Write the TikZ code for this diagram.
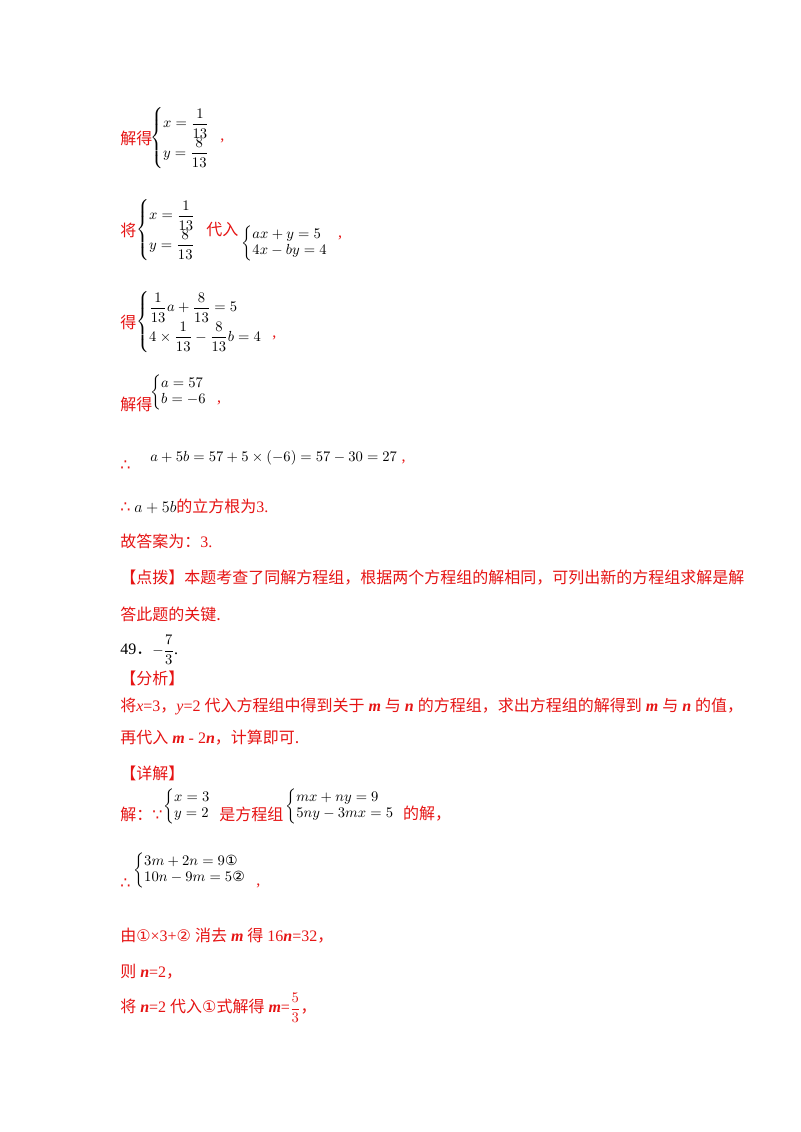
\documentclass[tikz,border=0pt]{standalone}
\usepackage{fontspec}
\usepackage{amsmath}
\setmainfont{Liberation Serif}
\newfontfamily\cjk{Noto Sans CJK SC}
\newfontfamily\sym{DejaVu Sans}
\definecolor{rd}{RGB}{230,20,20}
\tikzset{t/.style={anchor=west,inner sep=0pt,font=\fontsize{10.5}{12}\selectfont},r/.style={anchor=west,inner sep=0pt,font=\fontsize{12}{14}\selectfont,text=rd}}
\newcommand{\bm}[1]{\textbf{\textit{#1}}}
\begin{document}
\begin{tikzpicture}[x=0.75pt,y=-0.75pt]
\useasboundingbox[fill=white] (0,0) rectangle (800,1132);
\node[r] (a1) at (120,138) {\cjk 解得};
\node[t] (a2) at (150,138) {$\left\{\begin{array}{@{}l}x=\dfrac{1}{13}\\[2pt] y=\dfrac{8}{13}\end{array}\right.$};
\node[r] (a3) at ([xshift=2pt,yshift=-2pt]a2.east) {,};
\node[r] (b1) at (120,230) {\cjk 将};
\node[t] (b2) at (136,230) {$\left\{\begin{array}{@{}l}x=\dfrac{1}{13}\\[2pt] y=\dfrac{8}{13}\end{array}\right.$};
\node[r] (b3) at ([xshift=2pt]b2.east) {\cjk 代入};
\node[t] (b4) at ([xshift=2pt,yshift=-10pt]b3.east) {$\left\{\begin{array}{@{}l}ax+y=5\\ 4x-by=4\end{array}\right.$};
\node[r,anchor=south west] (b5) at ([xshift=2pt,yshift=2pt]b4.east) {,};
\node[r] (c1) at (120,322) {\cjk 得};
\node[t] (c2) at (136,322) {$\left\{\begin{array}{@{}l}\dfrac{1}{13}a+\dfrac{8}{13}=5\\[2pt] 4\times\dfrac{1}{13}-\dfrac{8}{13}b=4\end{array}\right.$};
\node[r,anchor=west] (c3) at ([xshift=2pt,yshift=-12pt]c2.east) {,};
\node[r] (d1) at (120,404) {\cjk 解得};
\node[t] (d2) at (150,392) {$\left\{\begin{array}{@{}l}a=57\\ b=-6\end{array}\right.$};
\node[r,anchor=west] (d3) at ([xshift=2pt,yshift=-8pt]d2.east) {,};
\node[r] (e1) at (120,466) {\sym ∴};
\node[t] (e2) at (150,458) {$a+5b=57+5\times\left(-6\right)=57-30=27$};
\node[r,anchor=west] (e3) at ([xshift=3pt,yshift=-3pt]e2.east) {,};
\node[r] (f1) at (120,506) {{\sym ∴} \textcolor{black}{$a+5b$}{\cjk 的立方根为}3.};
\node[r] (g1) at (120,541) {{\cjk 故答案为：}3.};
\node[r] (h1) at (120,578) {\cjk 【点拨】本题考查了同解方程组，根据两个方程组的解相同，可列出新的方程组求解是解};
\node[r] (h2) at (120,614) {\cjk 答此题的关键.};
\node[anchor=west,inner sep=0pt,font=\fontsize{12}{14}\selectfont] (i1) at (120,650) {49{\cjk ．}{\fontsize{10.5}{12}\selectfont$-\dfrac{7}{3}$}.};
\node[r] (j1) at (120,678) {\cjk 【分析】};
\node[r] (j2) at (120,706) {{\cjk 将}\textit{x}=3{\cjk ，}\textit{y}=2 {\cjk 代入方程组中得到关于} \bm{m} {\cjk 与} \bm{n} {\cjk 的方程组，求出方程组的解得到} \bm{m} {\cjk 与} \bm{n} {\cjk 的值，}};
\node[r] (j3) at (120,738) {{\cjk 再代入} \bm{m} - 2\bm{n}{\cjk ，计算即可.}};
\node[r] (k1) at (120,773) {\cjk 【详解】};
\node[r] (k2) at (120,814) {{\cjk 解：}{\sym ∵}};
\node[t] (k3) at (163,806) {$\left\{\begin{array}{@{}l}x=3\\ y=2\end{array}\right.$};
\node[r] (k4) at ([xshift=1pt,yshift=-6pt]k3.east) {\cjk 是方程组};
\node[t] (k5) at ([xshift=1pt,yshift=6pt]k4.east) {$\left\{\begin{array}{@{}l}mx+ny=9\\ 5ny-3mx=5\end{array}\right.$};
\node[r] (k6) at ([xshift=1pt,yshift=-6pt]k5.east) {\cjk 的解，};
\node[r] (l1) at (120,884) {\sym ∴};
\node[t] (l2) at (133,870) {$\left\{\begin{array}{@{}l}3m+2n=9\text{\sym ①}\\ 10n-9m=5\text{\sym ②}\end{array}\right.$};
\node[r] (l3) at ([xshift=2pt,yshift=-12pt]l2.east) {,};
\node[r] (m1) at (120,936) {{\cjk 由}{\sym ①}×3+{\sym ②} {\cjk 消去} \bm{m} {\cjk 得} 16\bm{n}=32{\cjk ，}};
\node[r] (n1) at (120,972) {{\cjk 则} \bm{n}=2{\cjk ，}};
\node[r] (o1) at (120,1008) {{\cjk 将} \bm{n}=2 {\cjk 代入}{\sym ①}{\cjk 式解得} \bm{m}={\fontsize{10.5}{12}\selectfont$\dfrac{5}{3}$}{\cjk ，}};
\end{tikzpicture}
\end{document}
